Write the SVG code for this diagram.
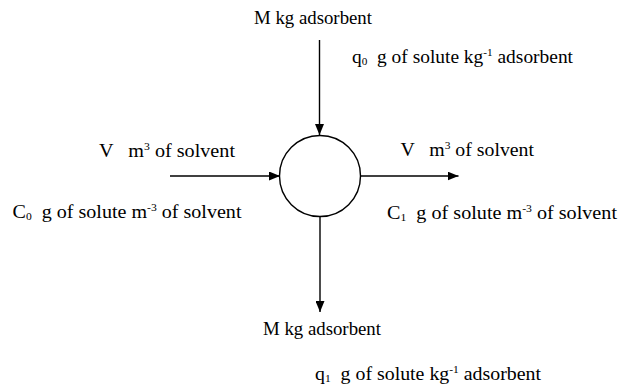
<svg xmlns="http://www.w3.org/2000/svg" width="623" height="389" viewBox="0 0 623 389">
<defs>
<marker id="ah" viewBox="0 0 11 9" refX="11" refY="4.5" markerWidth="11" markerHeight="9" markerUnits="userSpaceOnUse" orient="auto">
<path d="M0,0 L11,4.5 L0,9 Z" fill="#000"/>
</marker>
</defs>
<style>
text{font-family:"Liberation Serif","Times New Roman",serif;font-size:19px;fill:#000;white-space:pre}
.s{font-size:11px}
line{stroke:#000;stroke-width:1.4}
</style>
<rect width="623" height="389" fill="#fff"/>
<g id="connectors">
<line x1="319.5" y1="40" x2="319.5" y2="135" marker-end="url(#ah)"/>
<line x1="170" y1="176" x2="280" y2="176" marker-end="url(#ah)"/>
<line x1="360" y1="176" x2="458.5" y2="176" marker-end="url(#ah)"/>
<line x1="320" y1="217" x2="320" y2="312" marker-end="url(#ah)"/>
</g>
<g id="vessel">
<circle cx="320" cy="176" r="40.5" fill="none" stroke="#000" stroke-width="1.4"/>
</g>
<g id="labels">
<text x="254" y="24" textLength="118" lengthAdjust="spacingAndGlyphs">M kg adsorbent</text>
<text x="352" y="63" textLength="221" lengthAdjust="spacingAndGlyphs">q<tspan class="s" dy="2">0</tspan><tspan dy="-2">  g of solute kg</tspan><tspan class="s" dy="-7">-1</tspan><tspan dy="7"> adsorbent</tspan></text>
<text x="99" y="157" textLength="136" lengthAdjust="spacingAndGlyphs">V   m<tspan class="s" dy="-7">3</tspan><tspan dy="7"> of solvent</tspan></text>
<text x="12.5" y="218" textLength="229" lengthAdjust="spacingAndGlyphs">C<tspan class="s" dy="2">0</tspan><tspan dy="-2">  g of solute m</tspan><tspan class="s" dy="-7">-3</tspan><tspan dy="7"> of solvent</tspan></text>
<text x="400.5" y="156" textLength="133.5" lengthAdjust="spacingAndGlyphs">V   m<tspan class="s" dy="-7">3</tspan><tspan dy="7"> of solvent</tspan></text>
<text x="387" y="219" textLength="230" lengthAdjust="spacingAndGlyphs">C<tspan class="s" dy="2">1</tspan><tspan dy="-2">  g of solute m</tspan><tspan class="s" dy="-7">-3</tspan><tspan dy="7"> of solvent</tspan></text>
<text x="263" y="335" textLength="118" lengthAdjust="spacingAndGlyphs">M kg adsorbent</text>
<text x="315" y="380" textLength="226" lengthAdjust="spacingAndGlyphs">q<tspan class="s" dy="2">1</tspan><tspan dy="-2">  g of solute kg</tspan><tspan class="s" dy="-7">-1</tspan><tspan dy="7"> adsorbent</tspan></text>
</g>
</svg>
